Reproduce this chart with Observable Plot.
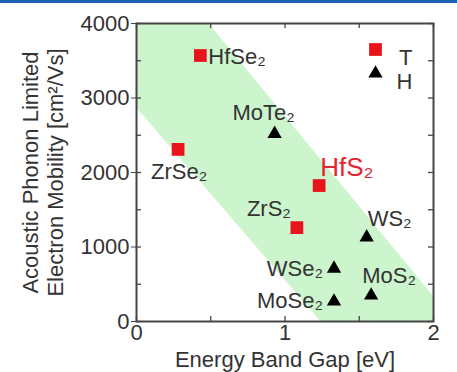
<!DOCTYPE html>
<html><head><meta charset="utf-8">
<script src="https://cdn.jsdelivr.net/npm/d3@7"></script>
<script src="https://cdn.jsdelivr.net/npm/@observablehq/plot@0.6"></script>
<style>
body{margin:0;background:#fff;}
#topbar{width:457px;height:3px;background:#1f63b3;}
</style>
</head><body>
<div id="topbar"></div>
<div id="chart"></div>
<script>
// Data
const materials = ["HfSe₂","ZrSe₂","HfS₂","ZrS₂","MoTe₂","WS₂","WSe₂","MoSe₂","MoS₂"];
const phases    = ["T","T","T","T","H","H","H","H","H"];
const bandGap   = [0.43, 0.28, 1.23, 1.08, 0.93, 1.55, 1.33, 1.33, 1.58];
const mobility  = [3570, 2310, 1825, 1260, 2520, 1130, 710, 270, 350];
// shaded band polygon (data units)
const bandX = [0, 0.486, 2, 2, 1.24, 0];
const bandY = [4000, 4000, 335, 0, 0, 2870];
const xTicks = [0, 1, 2];
const yTicks = [0, 1000, 2000, 3000, 4000];
const xAllTicks = [0, 0.5, 1, 1.5, 2];
const yAllTicks = [0, 500, 1000, 1500, 2000, 2500, 3000, 3500, 4000];
const legendPhases = ["T", "H"];

// layout / style
const labelStyle = {
  "HfSe₂": {dx: 8, dy: 1, anchor: "start"},
  "ZrSe₂": {dx: 1, dy: 23, anchor: "middle"},
  "HfS₂":  {dx: 1, dy: -18, anchor: "start", fill: "#e3262f", size: 26},
  "ZrS₂":  {dx: -28, dy: -19, anchor: "middle"},
  "MoTe₂": {dx: -11, dy: -21, anchor: "middle"},
  "WS₂":   {dx: 1, dy: -18, anchor: "start"},
  "WSe₂":  {dx: -11, dy: 0, anchor: "end"},
  "MoSe₂": {dx: -11, dy: 0, anchor: "end"},
  "MoS₂":  {dx: 18, dy: -19, anchor: "middle"}
};
const phaseColor = {T: "#e8141c", H: "#000000"};
const phaseSymbol = {T: "square", H: "triangle"};
const phaseR = {T: 7.2, H: 5.3};

const points = materials.map((m, i) => ({name: m, phase: phases[i], x: bandGap[i], y: mobility[i]}));
const band = bandX.map((x, i) => ({x, y: bandY[i]}));

const W = 457, H = 369, mT = 20, mB = 51, mL = 136, mR = 24;
const innerH = H - mT - mB;
const tick = 5;
const textColor = "#333333";

const marks = [
  Plot.line(band, {x: "x", y: "y", fill: "#cdf5cd", stroke: "none"}),
  // inward ticks
  Plot.tickX(xAllTicks, {x: d => d, insetTop: innerH - tick, stroke: "#444", strokeWidth: 1.3}),
  Plot.tickX(xAllTicks, {x: d => d, insetBottom: innerH - tick, stroke: "#444", strokeWidth: 1.3}),
  Plot.tickY(yAllTicks, {y: d => d, insetRight: (W - mL - mR) - tick, stroke: "#444", strokeWidth: 1.3}),
  Plot.tickY(yAllTicks, {y: d => d, insetLeft: (W - mL - mR) - tick, stroke: "#444", strokeWidth: 1.3}),
  Plot.frame({stroke: "#444", strokeWidth: 2}),
  Plot.axisY(yTicks, {anchor: "left", tickSize: 5, tickPadding: 2, fontSize: 22, fill: textColor, stroke: "#444", tickFormat: d => String(d), label: null}),
  Plot.axisX(xTicks, {anchor: "bottom", tickSize: 0, tickPadding: 3, fontSize: 22, fill: textColor, tickFormat: d => String(d), label: null}),
  Plot.text(["Energy Band Gap [eV]"], {frameAnchor: "bottom", dy: 38, fontSize: 22, fill: textColor, lineAnchor: "middle", textAnchor: "middle"}),
  Plot.text(["Acoustic Phonon Limited\nElectron Mobility [cm²/Vs]"], {frameAnchor: "left", dx: -94, rotate: -90, fontSize: 22, lineHeight: 1.12, fill: textColor, lineAnchor: "middle", textAnchor: "middle"}),
  // points
  ...["T", "H"].map(p => Plot.dot(points.filter(d => d.phase === p), {
    x: "x", y: "y", symbol: phaseSymbol[p], r: phaseR[p], fill: phaseColor[p], stroke: "none"
  })),
  // labels
  ...points.map(d => {
    const s = labelStyle[d.name];
    return Plot.text([d], {x: "x", y: "y", text: "name", dx: s.dx, dy: s.dy, textAnchor: s.anchor,
      fontSize: s.size || 22, fill: s.fill || textColor});
  }),
  // legend
  ...legendPhases.map((p, i) => Plot.dot([p], {frameAnchor: "top-right", dx: -58, dy: 26 + i * 24,
    symbol: phaseSymbol[p], r: phaseR[p], fill: phaseColor[p], stroke: "none"})),
  ...legendPhases.map((p, i) => Plot.text([p], {frameAnchor: "top-right", dx: -21, dy: 26 + i * 24,
    text: d => d, fontSize: 22, fill: textColor, textAnchor: "end"}))
];

const chart = Plot.plot({
  width: W, height: H,
  marginTop: mT, marginBottom: mB, marginLeft: mL, marginRight: mR,
  x: {domain: [0, 2]},
  y: {domain: [0, 4000]},
  style: {fontFamily: "'Liberation Sans', Arial, sans-serif", background: "#fff", overflow: "visible"},
  marks
});
document.getElementById("chart").appendChild(chart);
</script>
</body></html>
